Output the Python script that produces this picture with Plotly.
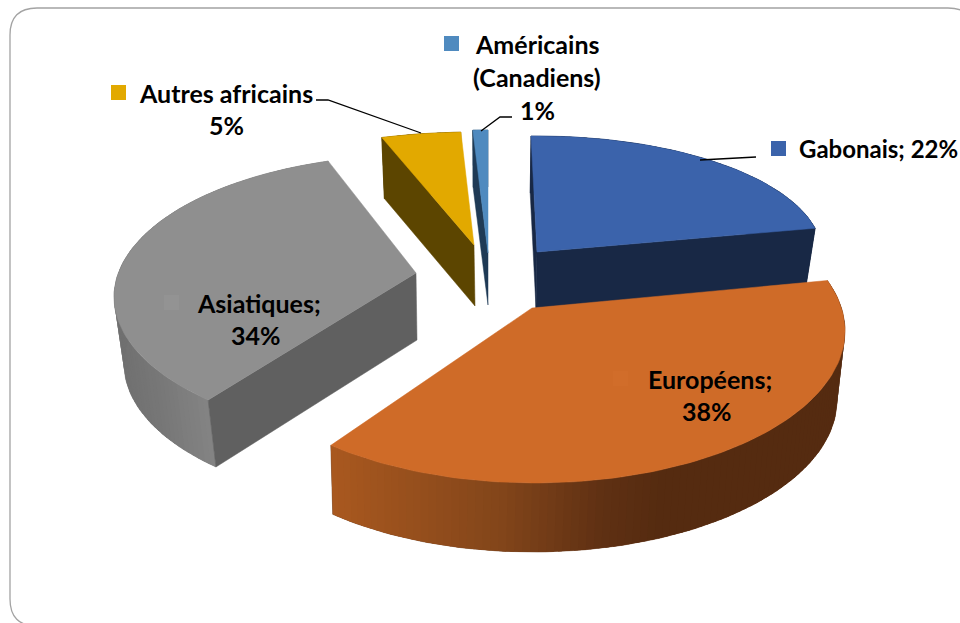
import math
import plotly.graph_objects as go

# ---- data ----
categories = ["Gabonais", "Européens", "Asiatiques", "Autres africains", "Américains (Canadiens)"]
shares = [22, 38, 34, 5, 1]
total = sum(shares)

top_colors = ["#3b63ab", "#cf6b28", "#8f8f8f", "#e2a900", "#4f8abf"]
wall_colors = ["#182845", "#5a2c10", "#606060", "#5c4500", "#1f3a55"]
key_colors = ["#3b63ab", "#d16d2a", "#939393", "#e2a900", "#4f8abf"]

# 3D look: one projected ellipse per exploded slice (top and bottom rims)
geom = {
    "Gabonais": dict(top=(537, 254, 285, 118), bot=(536, 309, 277, 116), apex=(537, 252), apex2=(536, 308),
                     dt0=-1.2, dt1=-1.8, walls=(0, 1), stops=[(530, "#182845"), (820, "#182845")]),
    "Européens": dict(top=(535, 331, 310, 152), bot=(533, 400, 304, 152), apex=(532, 308), apex2=(532, 378),
                      dt0=-8.6, dt1=5.2, walls=(),
                      stops=[(335, "#a8581f"), (500, "#82451a"), (600, "#5f3013"), (660, "#552b10"), (850, "#552b10")]),
    "Asiatiques": dict(top=(416, 297, 302, 142), bot=(419, 364, 295, 142), apex=(416, 273), apex2=(417, 340),
                       dt0=7.5, dt1=4.7, walls=(0,), stops=[(115, "#6f6f6f"), (160, "#777777"), (215, "#858585")]),
    "Autres africains": dict(top=(474, 245, 300, 113), bot=(475, 306, 295, 113), apex=(474, 245), apex2=(475, 306),
                             dt0=3.7, dt1=1.1, walls=(0,), stops=[(380, "#5c4500"), (480, "#5c4500")]),
    "Américains (Canadiens)": dict(top=(488, 253, 300, 123), bot=(488, 305, 295, 118), apex=(488, 253), apex2=(488, 305),
                                   dt0=0.7, dt1=0, walls=(0,), stops=[(470, "#1f3a55"), (490, "#1f3a55")]),
}
draw_order = ["Américains (Canadiens)", "Autres africains", "Asiatiques", "Gabonais", "Européens"]

labels = [
    ("Autres africains", 226, 93, "center", 25), ("5%", 226, 125, "center", 25),
    ("Américains", 537, 44, "center", 25), ("(Canadiens)", 537, 77, "center", 25), ("1%", 537, 110, "center", 25),
    ("Gabonais; 22%", 797, 148, "left", 24),
    ("Asiatiques;", 259, 303, "center", 25), ("34%", 256, 335, "center", 25),
    ("Européens;", 710, 379, "center", 25), ("38%", 707, 411, "center", 25),
]
keys = [(111, 85, 3), (771, 141, 0), (444, 36, 4), (164, 295, 2), (613, 371, 1)]
leaders = [
    ([316, 328, 421], [100, 100, 133]),
    ([512, 500, 481], [117, 117, 131]),
    ([756, 700], [157, 160]),
]


def hex_rgb(c):
    return tuple(int(c[i:i + 2], 16) for i in (1, 3, 5))


def color_at(stops, x):
    if x <= stops[0][0]:
        return stops[0][1]
    for (a, ca), (b, cb) in zip(stops, stops[1:]):
        if x <= b:
            f = (x - a) / (b - a)
            r = [round(p + (q - p) * f) for p, q in zip(hex_rgb(ca), hex_rgb(cb))]
            return "#%02x%02x%02x" % tuple(r)
    return stops[-1][1]


def rim(ell, t):
    cx, cy, rx, ry = ell
    return cx + rx * math.sin(math.radians(t)), cy - ry * math.cos(math.radians(t))


def poly(fig, pts, color, lw=0.0):
    xs = [p[0] for p in pts] + [pts[0][0]]
    ys = [p[1] for p in pts] + [pts[0][1]]
    fig.add_trace(go.Scatter(x=xs, y=ys, mode="lines", fill="toself", fillcolor=color,
                             line=dict(color=color, width=lw), hoverinfo="skip", showlegend=False))


# angular extents follow from the shares
extent = {}
acc = 0
for name, v in zip(categories, shares):
    extent[name] = (acc * 360 / total, (acc + v) * 360 / total)
    acc += v

fig = go.Figure()
for name in draw_order:
    i = categories.index(name)
    g = geom[name]
    a0, a1 = extent[name]
    t0, t1 = a0 + g["dt0"], a1 + g["dt1"]
    n = max(4, int((t1 - t0) / 1.5))
    ts = [t0 + (t1 - t0) * k / n for k in range(n + 1)]
    # backing of the curved outer wall, so strips leave no seams
    mid_x = (rim(g["bot"], t0)[0] + rim(g["bot"], t1)[0]) / 2
    poly(fig, [rim(g["top"], t) for t in ts] + [rim(g["bot"], t) for t in reversed(ts)],
         color_at(g["stops"], mid_x), 0.5)
    # curved outer wall, in strips (overlap each by a little)
    for p, q in zip(ts, ts[1:]):
        q2 = q + (t1 - t0) / n * 0.5 if q < t1 else q
        a, b, c, d = rim(g["top"], p), rim(g["top"], q2), rim(g["bot"], q2), rim(g["bot"], p)
        poly(fig, [a, b, c, d], color_at(g["stops"], (a[0] + b[0] + c[0] + d[0]) / 4))
    # radial walls that face the viewer
    for w in g["walls"]:
        t = (t0, t1)[w]
        poly(fig, [g["apex"], rim(g["top"], t), rim(g["bot"], t), g["apex2"]], wall_colors[i], 0.5)
    # top face
    poly(fig, [g["apex"]] + [rim(g["top"], t) for t in ts], top_colors[i], 0.5)

for xs, ys in leaders:
    fig.add_trace(go.Scatter(x=xs, y=ys, mode="lines", line=dict(color="#000000", width=1.3),
                             hoverinfo="skip", showlegend=False))

R = 27
L, T, Rt, B = 10, 8, 975, 626
frame = (f"M {L+R} {T} L {Rt-R} {T} Q {Rt} {T} {Rt} {T+R} L {Rt} {B-R} Q {Rt} {B} {Rt-R} {B} "
         f"L {L+R} {B} Q {L} {B} {L} {B-R} L {L} {T+R} Q {L} {T} {L+R} {T} Z")
shapes = [dict(type="path", path=frame, xref="x", yref="y", line=dict(color="#a3a3a3", width=1.3), layer="below")]
for x, y, idx in keys:
    shapes.append(dict(type="rect", xref="x", yref="y", x0=x, x1=x + 15, y0=y, y1=y + 15,
                       fillcolor=key_colors[idx], line=dict(width=0), layer="above"))

annotations = [dict(x=x, y=y, text=t, xref="x", yref="y", xanchor=anc, yanchor="middle", showarrow=False,
                    font=dict(family="Lato", size=s, color="#000000", weight="bold"))
               for t, x, y, anc, s in labels]

fig.update_layout(
    width=960, height=623, margin=dict(l=0, r=0, t=0, b=0),
    paper_bgcolor="white", plot_bgcolor="white", showlegend=False,
    xaxis=dict(range=[0, 960], visible=False, fixedrange=True),
    yaxis=dict(range=[623, 0], visible=False, fixedrange=True),
    shapes=shapes, annotations=annotations,
)
fig.write_html("out.html", config=dict(displayModeBar=False),
               post_script="document.body.style.margin='0';document.body.style.overflow='hidden';")
